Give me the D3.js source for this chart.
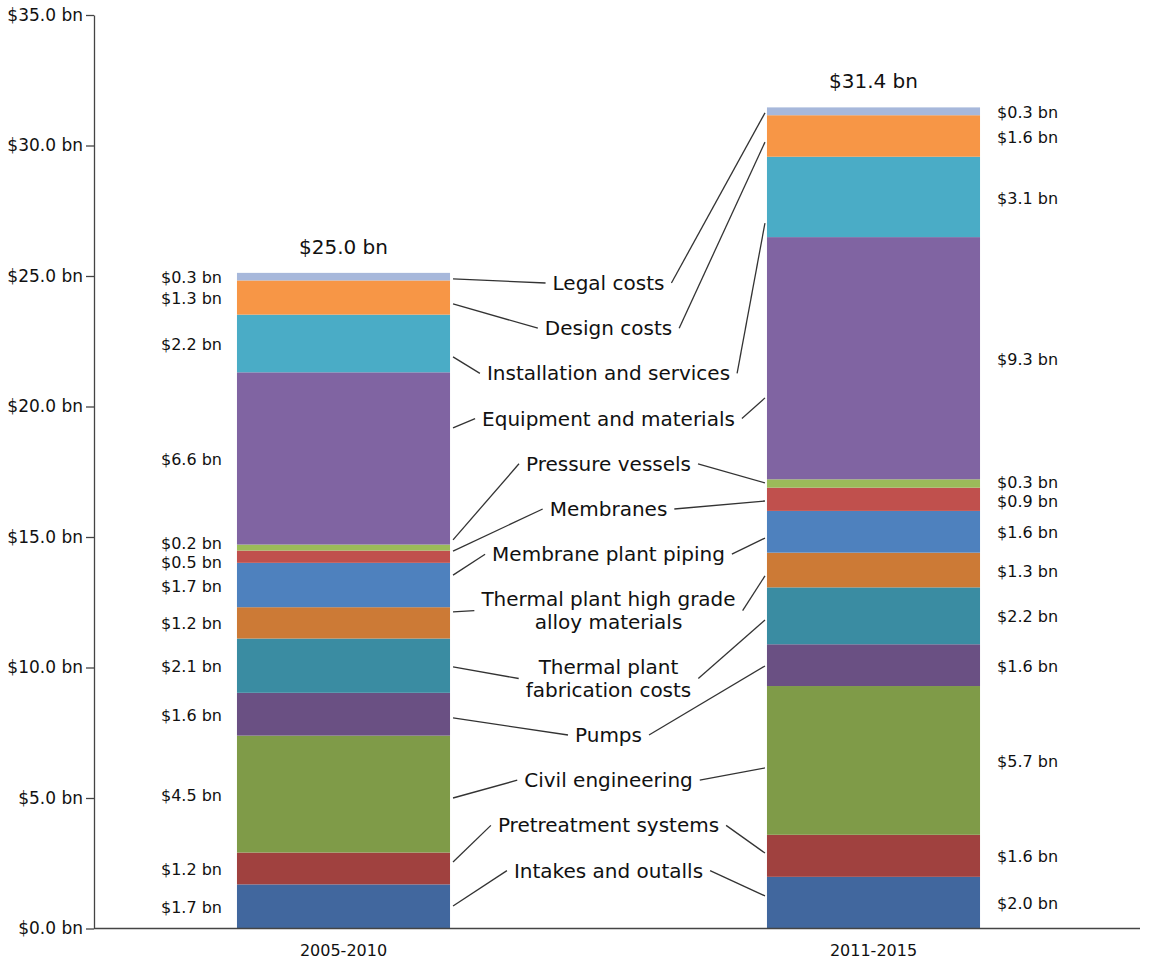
<!DOCTYPE html>
<html>
<head>
<meta charset="utf-8">
<script src="https://cdn.jsdelivr.net/npm/d3@7/dist/d3.min.js"></script>
<style>
  html, body { margin: 0; padding: 0; background: #fff; }
  svg { display: block; font-family: "DejaVu Sans", Verdana, sans-serif; }
  .leader { stroke: #333; stroke-width: 1.3; fill: none; }
  .cat-label { font-size: 20px; fill: #111; }
  .value-label { font-size: 16px; fill: #111; }
  .total-label { font-size: 20px; fill: #111; }
  .axis-y text { font-size: 17px; fill: #111; }
  .axis-x text { font-size: 16px; fill: #111; }
  .axis line, .axis path { stroke: #444; stroke-width: 1.3; }
</style>
</head>
<body>
<div id="chart"></div>
<script>
// periods and totals as printed above the bars
const periods = ["2005-2010", "2011-2015"];
const totals = [25.0, 31.4];

// stack order, bottom to top
const categories = [
  "Intakes and outalls",
  "Pretreatment systems",
  "Civil engineering",
  "Pumps",
  "Thermal plant fabrication costs",
  "Thermal plant high grade alloy materials",
  "Membrane plant piping",
  "Membranes",
  "Pressure vessels",
  "Equipment and materials",
  "Installation and services",
  "Design costs",
  "Legal costs"
];

// how the category names are broken into lines
const categoryLines = [
  ["Intakes and outalls"],
  ["Pretreatment systems"],
  ["Civil engineering"],
  ["Pumps"],
  ["Thermal plant", "fabrication costs"],
  ["Thermal plant high grade", "alloy materials"],
  ["Membrane plant piping"],
  ["Membranes"],
  ["Pressure vessels"],
  ["Equipment and materials"],
  ["Installation and services"],
  ["Design costs"],
  ["Legal costs"]
];

// $ bn, same order as categories
const values2005 = [1.69, 1.22, 4.48, 1.64, 2.08, 1.20, 1.70, 0.47, 0.23, 6.60, 2.21, 1.31, 0.29];
const values2011 = [1.98, 1.61, 5.70, 1.60, 2.18, 1.33, 1.60, 0.89, 0.32, 9.28, 3.08, 1.59, 0.30];

const colors = [
  "#41679e", "#a0413f", "#7f9b48", "#6a5083", "#3a8ca2", "#cc7a36", "#4e81be",
  "#c0504d", "#9bbb59", "#8064a2", "#4aacc6", "#f79646", "#a7b8db"
];

// value ($ bn) where each leader line meets the left / right bar
const leaderLeft = [0.86, 2.55, 5.00, 8.07, 10.02, 12.13, 13.54, 14.46, 14.89, 19.18, 21.90, 23.93, 24.89];
const leaderRight = [1.25, 2.89, 6.15, 10.06, 11.82, 13.51, 14.96, 16.38, 17.07, 20.33, 27.03, 30.13, 31.25];

const yTicks = [0, 5, 10, 15, 20, 25, 30, 35];

const width = 1153, height = 964;
const svg = d3.select("#chart").append("svg")
  .attr("width", width)
  .attr("height", height);

const y = d3.scaleLinear().domain([0, 35]).range([928.5, 15]);
const x = d3.scaleBand().domain(periods)
  .range([78.5, 1138.5])
  .paddingInner(0.598)
  .paddingOuter(0.299);
const axisX = 94;

const fmt = d3.format(".1f");
const money = d => "$" + fmt(d) + " bn";

// cumulative segments per period
const series = periods.map((p, pi) => {
  const vals = pi === 0 ? values2005 : values2011;
  let acc = 0;
  return vals.map((v, i) => {
    const s = { period: p, index: i, y0: acc, y1: acc + v, value: v };
    acc += v;
    return s;
  });
});

// bars
const barLayer = svg.append("g");
series.forEach(segs => {
  barLayer.selectAll(null)
    .data(segs)
    .join("rect")
    .attr("x", d => x(d.period))
    .attr("width", x.bandwidth())
    .attr("y", d => y(d.y1))
    .attr("height", d => y(d.y0) - y(d.y1))
    .attr("fill", d => colors[d.index]);
});

// axes
const gx = svg.append("g")
  .attr("class", "axis axis-x")
  .attr("transform", `translate(0,${y(0)})`)
  .call(d3.axisBottom(x).tickSize(0).tickSizeOuter(0).tickPadding(16));
gx.attr("font-family", null).attr("font-size", null);
gx.select(".domain").remove();
gx.append("line")
  .attr("x1", axisX)
  .attr("x2", 1140)
  .attr("y1", 0)
  .attr("y2", 0);

const gy = svg.append("g")
  .attr("class", "axis axis-y")
  .attr("transform", `translate(${axisX},0)`)
  .call(d3.axisLeft(y).tickValues(yTicks).tickFormat(money).tickSize(8).tickSizeOuter(0).tickPadding(3));
gy.attr("font-family", null).attr("font-size", null);

// totals
svg.append("g").selectAll("text")
  .data(periods)
  .join("text")
  .attr("class", "total-label")
  .attr("x", p => x(p) + x.bandwidth() / 2)
  .attr("y", (p, i) => y(series[i][series[i].length - 1].y1) - 19)
  .attr("text-anchor", "middle")
  .text((p, i) => money(totals[i]));

// value labels with simple collision spreading
function spread(ys, gap) {
  const out = ys.slice();
  for (let k = 0; k < 30; k++) {
    for (let i = 1; i < out.length; i++) {
      const d = out[i - 1] - out[i];
      if (d < gap) {
        const push = (gap - d) / 2;
        out[i - 1] += push;
        out[i] -= push;
      }
    }
  }
  return out;
}

series.forEach((segs, pi) => {
  const mids = spread(segs.map(d => y((d.y0 + d.y1) / 2) + 1), 19);
  const left = pi === 0;
  svg.append("g").selectAll("text")
    .data(segs)
    .join("text")
    .attr("class", "value-label")
    .attr("x", left ? x(periods[pi]) - 15 : x(periods[pi]) + x.bandwidth() + 17)
    .attr("y", (d, i) => mids[i])
    .attr("dy", "0.35em")
    .attr("text-anchor", left ? "end" : "start")
    .text(d => money(d.value));
});

// category labels in the middle
const centerX = (x(periods[0]) + x.bandwidth() + x(periods[1])) / 2;
const lineH = 22.6;
const topY = 283;
const order = d3.range(categories.length).reverse();
let slot = 0;
const labelPos = [];
order.forEach(i => {
  const n = categoryLines[i].length;
  labelPos[i] = { first: topY + slot * lineH, n: n };
  slot += n + 1;
});

const labelLayer = svg.append("g");
const leaderLayer = svg.append("g");
categories.forEach((c, i) => {
  const pos = labelPos[i];
  const t = labelLayer.append("text")
    .attr("class", "cat-label")
    .attr("text-anchor", "middle");
  categoryLines[i].forEach((ln, j) => {
    t.append("tspan")
      .attr("x", centerX)
      .attr("y", pos.first + j * lineH)
      .attr("dy", "0.35em")
      .text(ln);
  });
  let w = 0;
  t.selectAll("tspan").each(function () { w = Math.max(w, this.getComputedTextLength()); });
  const cy = pos.first + (pos.n - 1) * lineH / 2;
  const gap = 7;
  leaderLayer.append("line")
    .attr("class", "leader")
    .attr("x1", x(periods[0]) + x.bandwidth() + 3)
    .attr("y1", y(leaderLeft[i]))
    .attr("x2", centerX - w / 2 - gap)
    .attr("y2", cy);
  leaderLayer.append("line")
    .attr("class", "leader")
    .attr("x1", centerX + w / 2 + gap)
    .attr("y1", cy)
    .attr("x2", x(periods[1]) - 2)
    .attr("y2", y(leaderRight[i]));
});
</script>
</body>
</html>
